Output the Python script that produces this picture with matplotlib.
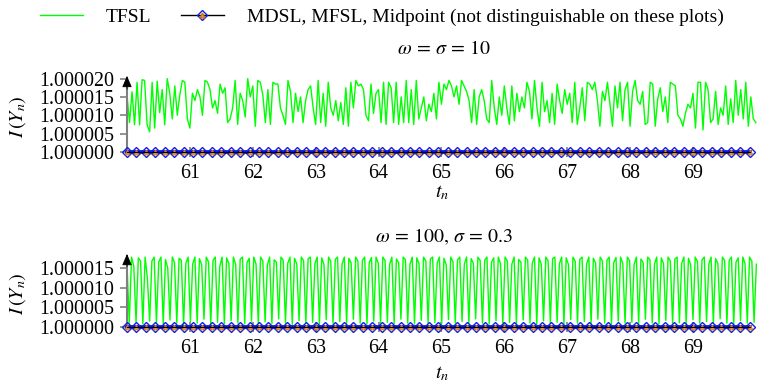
import numpy as np
import matplotlib
matplotlib.use("Agg")
import matplotlib.pyplot as plt
from matplotlib.ticker import FixedLocator, FormatStrFormatter
from matplotlib.lines import Line2D
from matplotlib.legend_handler import HandlerTuple

FS = 14.4
plt.rcParams['font.family'] = ['Liberation Serif', 'DejaVu Serif']
plt.rcParams['mathtext.fontset'] = 'stix'
plt.rcParams['xtick.labelsize'] = FS
plt.rcParams['ytick.labelsize'] = FS

# ---------------- data ----------------
x_start, x_end = 60.0, 70.0
tick_positions = [61, 62, 63, 64, 65, 66, 67, 68, 69]
ytick_dev_top = [0, 5, 10, 15, 20]
ytick_dev_bot = [0, 5, 10, 15]

# TFSL, omega = sigma = 10  (deviation from 1, in units of 1e-6), step 0.04
tfsl_top_dev = [
    15.5, 8.0, 16.4, 7.4, 19.0, 7.4, 19.7, 19.5, 7.4, 5.5, 19.0, 6.5, 19.3, 10.7, 17.0, 7.4, 20.0, 16.0, 9.0, 18.0, 10.0, 15.6, 19.5, 19.0, 9.0,
    6.5, 16.0, 14.0, 17.0, 15.0, 10.0, 19.5, 19.0, 17.0, 12.0, 14.0, 10.5, 18.5, 16.0, 17.5, 8.0, 9.0, 12.0, 19.5, 7.5, 16.0, 14.0, 9.5, 20.0, 15.0,
    18.0, 7.0, 19.5, 19.0, 15.5, 8.0, 17.0, 7.5, 19.0, 18.5, 18.5, 12.0, 10.0, 7.5, 19.5, 16.5, 8.0, 16.0, 11.0, 15.0, 8.0, 14.0, 17.0, 18.0, 12.0,
    7.5, 19.5, 8.0, 16.0, 7.0, 19.0, 12.0, 10.0, 14.0, 8.5, 13.5, 7.5, 17.5, 7.0, 19.0, 12.0, 19.5, 18.0, 18.5, 17.0, 10.0, 8.5, 18.5, 10.5, 16.0,
    17.0, 8.0, 19.0, 7.5, 19.0, 17.5, 8.0, 19.0, 7.5, 15.0, 8.0, 19.5, 8.0, 17.0, 7.5, 19.5, 9.0, 12.0, 15.0, 8.5, 13.0, 11.0, 16.0, 9.0, 19.0,
    13.0, 18.5, 17.0, 19.5, 18.0, 15.0, 18.0, 13.0, 19.5, 18.0, 16.5, 14.0, 8.0, 17.0, 7.5, 15.0, 17.0, 14.0, 9.0, 8.0, 19.5, 12.0, 7.5, 15.0, 10.0,
    18.0, 12.0, 7.5, 18.0, 8.5, 16.0, 11.0, 15.0, 12.0, 19.0, 16.5, 9.0, 19.5, 12.0, 7.0, 19.0, 11.0, 14.0, 8.0, 16.0, 7.5, 18.5, 14.0, 10.5, 17.0,
    13.0, 16.0, 8.0, 19.0, 7.5, 12.0, 17.5, 8.5, 19.0, 18.5, 17.0, 19.0, 14.0, 7.0, 16.5, 14.0, 19.0, 13.0, 7.0, 18.0, 12.0, 19.0, 8.5, 17.0, 19.0,
    7.0, 16.5, 19.5, 14.0, 13.0, 16.5, 7.5, 8.0, 19.0, 18.5, 7.0, 14.5, 17.5, 11.0, 15.0, 8.0, 19.0, 18.5, 18.0, 10.0, 9.0, 7.0, 10.5, 13.0, 12.0,
    16.0, 6.5, 19.0, 19.0, 6.0, 19.0, 17.0, 8.0, 9.0, 16.5, 7.5, 12.0, 10.0, 18.0, 7.5, 14.5, 8.0, 19.5, 10.0, 17.0, 9.0, 19.0, 7.0, 15.0, 9.0,
    8.0,
]

# TFSL, omega = 100, sigma = 0.3  (deviation from 1, in units of 1e-6), step 0.036
tfsl_bot_dev = [
    16.0, 1.0, 17.8, 15.5, 1.2, 17.6, 16.8, 0.8, 17.8, 12.5, 1.5, 16.8, 17.8, 1.0, 16.5, 17.8, 0.9, 17.2, 15.0, 1.8, 17.8, 16.4, 1.0, 17.5, 17.0, 0.7, 16.2,
    17.8, 1.4, 16.0, 17.8, 1.0, 17.4, 15.8, 2.0, 17.8, 16.6, 0.8, 17.0, 17.8, 1.2, 15.5, 17.8, 0.9, 17.6, 16.2, 1.6, 17.8, 15.9, 1.0, 17.3, 17.8, 0.8, 16.4,
    17.5, 1.5, 17.8, 16.0, 1.0, 17.8, 16.8, 1.3, 15.8, 17.8, 0.9, 17.1, 16.5, 2.1, 17.8, 17.0, 1.0, 16.2, 17.8, 0.7, 17.5, 16.0, 1.6, 17.8, 16.9, 1.0, 17.4,
    17.8, 1.2, 16.1, 17.8, 0.8, 17.6, 15.9, 1.9, 17.8, 16.7, 1.0, 17.2, 17.8, 1.4, 16.0, 17.8, 0.9, 17.5, 16.3, 2.0, 17.8, 16.8, 1.0, 17.0, 17.8, 0.8, 16.4,
    17.7, 1.5, 17.8, 16.2, 1.0, 17.8, 16.9, 1.2, 15.9, 17.8, 0.9, 17.3, 16.4, 2.0, 17.8, 17.1, 1.0, 16.0, 17.8, 0.8, 17.6, 16.1, 1.7, 17.8, 16.8, 1.0, 17.3,
    17.8, 1.1, 16.2, 17.8, 0.8, 17.5, 15.8, 1.9, 17.8, 16.6, 1.0, 17.1, 17.8, 1.4, 16.0, 17.8, 0.9, 17.4, 16.2, 2.1, 17.8, 16.9, 1.0, 17.0, 17.8, 0.8, 16.5,
    17.6, 1.6, 17.8, 16.1, 1.0, 17.8, 16.8, 1.2, 16.0, 17.8, 0.9, 17.2, 16.5, 1.8, 17.8, 17.0, 1.0, 16.2, 17.8, 0.7, 17.6, 16.0, 1.6, 17.8, 16.9, 1.0, 17.4,
    17.8, 1.2, 16.1, 17.8, 0.8, 17.6, 15.9, 1.9, 17.8, 16.7, 1.0, 17.2, 17.8, 1.4, 16.0, 17.8, 0.9, 17.5, 16.3, 2.0, 17.8, 16.8, 1.0, 17.0, 17.8, 0.8, 16.4,
    17.7, 1.5, 17.8, 16.2, 1.0, 17.8, 16.9, 1.2, 15.9, 17.8, 0.9, 17.3, 16.4, 2.0, 17.8, 17.1, 1.0, 16.0, 17.8, 0.8, 17.6, 16.1, 1.7, 17.8, 16.8, 1.0, 17.3,
    17.8, 1.1, 16.2, 17.8, 0.8, 17.5, 15.8, 1.9, 17.8, 16.6, 1.0, 17.1, 17.8, 1.4, 16.0, 17.8, 0.9, 17.4, 16.2, 2.1, 17.8, 16.9, 1.0, 17.0, 17.8, 0.8, 16.5,
    17.6, 1.6, 17.8, 16.1, 1.0, 17.8, 16.8, 1.2, 16.0,
]

# MDSL / MFSL / Midpoint: all equal to 1 on these plots (marker positions)
marker_step = 0.15
n_markers = 67
mdsl_dev = [0.0] * n_markers

t_top = x_start + 0.04 * np.arange(len(tfsl_top_dev))
t_bot = x_start + 0.036 * np.arange(len(tfsl_bot_dev))
t_mark = x_start + marker_step * np.arange(n_markers)

tfsl_top = 1.0 + np.array(tfsl_top_dev) * 1e-6
tfsl_bot = 1.0 + np.array(tfsl_bot_dev) * 1e-6
mdsl_vals = 1.0 + np.array(mdsl_dev) * 1e-6

# ---------------- figure ----------------
W, H = 759, 382
fig = plt.figure(figsize=(W / 100, H / 100), dpi=100)

def px_axes(left, top, right, bottom):
    return fig.add_axes([left / W, 1 - bottom / H, (right - left) / W, (bottom - top) / H])

ax_top = px_axes(127, 77.5, 759, 155.6)
ax_bot = px_axes(127, 255.5, 759, 331.0)

GREEN = '#00ff00'
GRAY = '#808080'

def style(ax, ylim, yticks_dev, title, title_y):
    ax.set_xlim(x_start, 70.05)
    ax.set_ylim(*ylim)
    for s in ['top', 'right']:
        ax.spines[s].set_visible(False)
    ax.spines['bottom'].set_position(('data', 1.0))
    ax.spines['bottom'].set_visible(False)
    ax.spines['left'].set_color(GRAY)
    ax.spines['left'].set_linewidth(1.5)
    ax.spines['left'].set_bounds(1.0, ylim[1])
    ax.xaxis.set_major_locator(FixedLocator(tick_positions))
    ax.xaxis.set_major_formatter(FormatStrFormatter('%d'))
    yt = [1.0 + v * 1e-6 for v in yticks_dev]
    ax.yaxis.set_major_locator(FixedLocator(yt))
    ax.yaxis.set_major_formatter(FormatStrFormatter('%.6f'))
    ax.tick_params(axis='x', direction='inout', length=7, width=1.2, color=GRAY,
                   labelsize=FS, pad=5)
    ax.tick_params(axis='y', direction='out', length=5, width=1.2, color=GRAY,
                   labelsize=FS, pad=4)
    ax.annotate('', xy=(0, 1.02), xytext=(0, 0.85), xycoords='axes fraction',
                arrowprops=dict(arrowstyle='-|>,head_length=0.7,head_width=0.3',
                                color='black', lw=0.6, shrinkA=0, shrinkB=0),
                annotation_clip=False)
    ax.set_ylabel(r'$I\,(Y_n)$', fontsize=FS)
    ax.yaxis.set_label_coords(-0.157, 0.5)
    ax.set_xlabel(r'$t_n$', fontsize=FS)
    fig.text(444 / W, 1 - title_y / H, title, fontsize=FS, ha='center', va='center')

def draw(ax, t, vals):
    ax.plot(t, vals, color=GREEN, lw=1.0, zorder=2)
    ax.plot(t_mark, mdsl_vals, color='#0000dd', lw=2.6, marker='D', ms=5.0,
            mfc='none', mec='#1020e0', mew=1.0, zorder=3, clip_on=False)
    ax.plot(t_mark, mdsl_vals, color='none', marker='^', ms=3.5,
            mfc='#e0a060', mec='#d07010', mew=0.6, zorder=4, clip_on=False)
    ax.plot(t_mark, mdsl_vals, color='black', lw=0.8, zorder=5)

draw(ax_top, t_top, tfsl_top)
draw(ax_bot, t_bot, tfsl_bot)

style(ax_top, (1.0 - 1.0e-6, 1.0 + 20.3e-6), ytick_dev_top, r'$\omega\,=\,\sigma\,=\,10$', 50)
style(ax_bot, (1.0 - 1.0e-6, 1.0 + 18.2e-6), ytick_dev_bot, r'$\omega\,=\,100,\,\sigma\,=\,0.3$', 237)

ax_top.xaxis.set_label_coords(0.498, -0.35)
ax_bot.xaxis.set_label_coords(0.498, -0.44)

for ax in (ax_top, ax_bot):
    for lbl in ax.get_xticklabels() + ax.get_yticklabels():
        lbl.set_fontsize(FS)

# legend
h_green = Line2D([], [], color=GREEN, lw=1.0)
h_blue = Line2D([], [], color='black', lw=1.0, marker='D', ms=5.0, mfc='none', mec='#1020e0')
h_or = Line2D([], [], color='none', marker='^', ms=3.5, mfc='#e0a060', mec='#d07010')
fig.legend([h_green, (h_blue, h_or)],
           ['TFSL', 'MDSL, MFSL, Midpoint (not distinguishable on these plots)'],
           handler_map={tuple: HandlerTuple(ndivide=1)},
           loc='upper center', bbox_to_anchor=(0.503, 1.025), ncol=2, frameon=False,
           fontsize=14.0, handlelength=2.2, handletextpad=1.2, columnspacing=1.5)

fig.savefig('out.png', dpi=100)
